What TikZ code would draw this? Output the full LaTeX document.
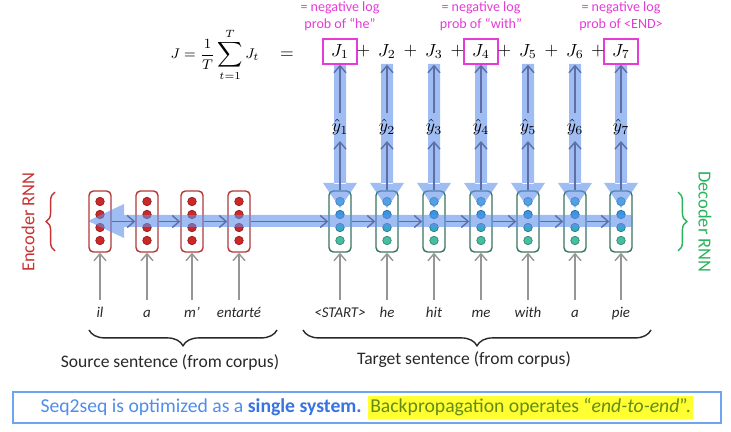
\documentclass[tikz,border=0pt]{standalone}
\usepackage{fontspec}
\setmainfont{Carlito}
\usetikzlibrary{arrows.meta,positioning,calc,decorations.pathreplacing}
\definecolor{encred}{RGB}{180,55,55}
\definecolor{encdot}{RGB}{205,40,40}
\definecolor{encword}{RGB}{200,50,50}
\definecolor{decgreen}{RGB}{55,115,95}
\definecolor{decword}{RGB}{40,180,90}
\definecolor{dotA}{RGB}{70,180,220}
\definecolor{dotB}{RGB}{55,150,225}
\definecolor{dotC}{RGB}{55,170,195}
\definecolor{dotD}{RGB}{70,190,160}
\definecolor{band}{RGB}{95,145,235}
\definecolor{flowgray}{RGB}{95,110,165}
\definecolor{ingray}{RGB}{150,150,150}
\definecolor{lossmag}{RGB}{230,60,215}
\definecolor{frameblue}{RGB}{110,165,240}
\definecolor{txtblue}{RGB}{80,140,235}
\definecolor{boldblue}{RGB}{55,115,225}
\definecolor{hlgreen}{RGB}{100,140,20}
\definecolor{hlyellow}{RGB}{255,255,50}
\definecolor{ink}{RGB}{40,40,40}
\tikzset{
  >={Straight Barb[length=1.4mm,width=2.4mm]},
  cell/.style={draw=#1,rounded corners=2.5pt,thick,minimum width=0.44cm,
    minimum height=1.22cm,inner sep=0pt},
  cell/.default=encred,
  dot/.style={fill=#1,draw=#1!70!black,line width=0.4pt},
  flow/.style={->,draw=flowgray,line width=0.8pt},
  feed/.style={->,draw=ingray,line width=0.8pt},
  word/.style={font=\fontsize{8.5}{10}\selectfont\itshape,text=ink,
    text height=1.6ex,text depth=.3ex,inner sep=2pt},
  loss/.style={draw=#1,thick,minimum width=0.68cm,minimum height=0.5cm,inner sep=0pt,
    font=\fontsize{10}{12}\selectfont},
  loss/.default=lossmag,
  note/.style={font=\fontsize{8}{9.8}\selectfont,text=lossmag,align=center,inner sep=0pt},
  rnnlabel/.style={font=\fontsize{10.5}{12}\selectfont,text=#1},
  brlabel/.style={font=\fontsize{10}{12}\selectfont,text=ink},
  curly/.style={decorate,decoration={brace,amplitude=#1},draw=ink,thick},
}

\begin{document}
\begin{tikzpicture}[x=0.02cm,y=-0.02cm]
  \useasboundingbox (0,0) rectangle (731,432);
  % encoder
  \foreach \i/\x in {1/100,2/147,3/192,4/239}{
    \node[cell=encred] (e\i) at (\x,221.5) {};
    \foreach \y in {201.5,214.5,227.5,240.5}
      \path[dot=encdot] (\x,\y) circle (0.085cm);
  }
  % decoder
  \foreach \i/\x in {1/340,2/387,3/434,4/481,5/528,6/575,7/621}{
    \node[cell=decgreen] (d\i) at (\x,221.5) {};
    \foreach \y/\c in {201.5/dotA,214.5/dotB,227.5/dotC,240.5/dotD}
      \path[dot=\c] (\x,\y) circle (0.085cm);
  }

  % backpropagation band
  \begin{scope}[transparency group,opacity=0.6]
    \fill[band] (122,215) rectangle (632,227);
    \fill[band] (88,221) -- (124,204) -- (124,238) -- cycle;
    \foreach \x in {340,387,434,481,528,575,621}
      \fill[band] (\x-6,64) rectangle (\x+6,184)
        (\x-17,183) -- (\x+17,183) -- (\x,208) -- cycle;
  \end{scope}

  \foreach \i/\x/\w in {1/100/il,2/147/a,3/192/m’,4/239/entarté}{
    \node[word] (we\i) at (\x,312) {\w};
    \draw[feed] (we\i) -- (e\i);
  }
  \foreach \i/\x/\w in {1/340/<START>,2/387/he,3/434/hit,4/481/me,5/528/with,6/575/a,7/621/pie}{
    \node[word] (wd\i) at (\x,312) {\w};
    \draw[feed] (wd\i) -- (d\i);
    \node[font=\fontsize{10}{12}\selectfont] (y\i) at (\x,127) {$\hat{y}_{\i}$};
  }
  \foreach \i/\x in {1/340,4/481,7/621}
    \node[loss] (J\i) at (\x,51.5) {$J_{\i}$};
  \foreach \i/\x in {2/387,3/434,5/528,6/575}
    \node[loss=none,draw=none] (J\i) at (\x,51.5) {$J_{\i}$};
  \foreach \a/\b [count=\k] in {J1/J2,J2/J3,J3/J4,J4/J5,J5/J6,J6/J7}
    \node[font=\fontsize{10}{12}\selectfont] (p\k) at ($(\a)!0.5!(\b)$) {$+$};
  \node[font=\fontsize{8.5}{10}\selectfont] (Jsum) at (215,55) {$\displaystyle J=\frac{1}{T}\sum_{t=1}^{T}J_t$};
  \node[font=\fontsize{10}{12}\selectfont] (eq) at (287,55) {$=$};

  \node[note,above=4pt of J1] (n1) {= negative log\\prob of “he”};
  \node[note,above=4pt of J4] (n4) {= negative log\\prob of “with”};
  \node[note,above=4pt of J7] (n7) {= negative log\\prob of <END>};

  \foreach \a/\b in {e1/e2,e2/e3,e3/e4,e4/d1,d1/d2,d2/d3,d3/d4,d4/d5,d5/d6,d6/d7}
    \draw[flow] (\a) -- (\b);
  \foreach \i in {1,...,7}{
    \draw[flow] (d\i) -- (y\i);
    \draw[flow] (y\i) -- (J\i);
  }

  \draw[curly=5pt,draw=encword] (55,251) -- (55,192);
  \draw[curly=5pt,draw=decword] (678,192) -- (678,251);
  \node[rnnlabel=encword,rotate=90] (enc) at (28,222) {Encoder RNN};
  \node[rnnlabel=decword,rotate=-90] (dec) at (705,222) {Decoder RNN};

  \coordinate (s0) at (89,330);
  \coordinate (s1) at (277,330);
  \coordinate (t0) at (303,330);
  \coordinate (t1) at (651,330);
  \draw[curly=9pt,decoration={mirror}] (s0) -- (s1);
  \draw[curly=9pt,decoration={mirror}] (t0) -- (t1);
  \node[brlabel] (src) at (170,362) {Source sentence (from corpus)};
  \node[brlabel] (tgt) at (464,360) {Target sentence (from corpus)};

  \node[draw=frameblue,line width=1pt,minimum width=14.16cm,minimum height=0.62cm,
    font=\fontsize{11.2}{13}\selectfont,inner sep=0pt] (msg) at (367,407.5)
    {\color{txtblue}Seq2seq is optimized as a \textcolor{boldblue}{\textbf{single system.}}
     \setlength{\fboxsep}{1.5pt}\colorbox{hlyellow}{\color{hlgreen}Backpropagation operates “\textit{end-to-end}”.}};
\end{tikzpicture}
\end{document}
